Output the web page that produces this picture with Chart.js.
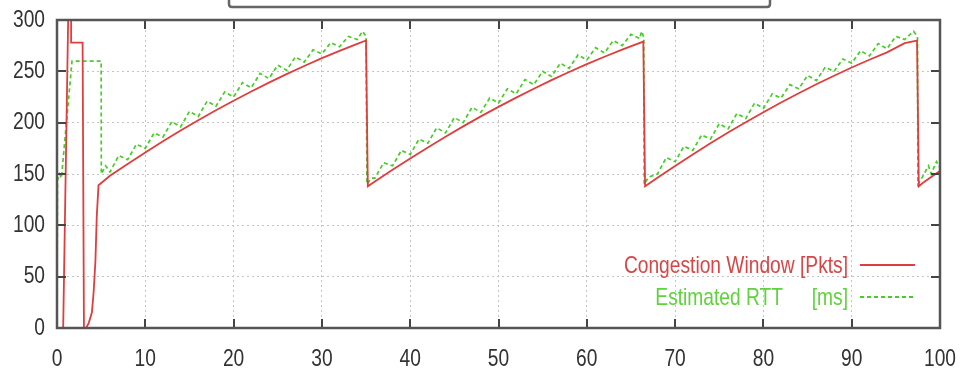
<!DOCTYPE html>
<html>
<head>
<meta charset="utf-8">
<script src="https://cdn.jsdelivr.net/npm/chart.js@4.4.1/dist/chart.umd.min.js"></script>
<style>
html,body{margin:0;padding:0;background:#fff;}
#wrap{width:961px;height:380px;position:relative;}
</style>
</head>
<body>
<div id="wrap"><canvas id="c" width="961" height="380"></canvas></div>
<script>
// Time axis ticks
const xTicks = [0,10,20,30,40,50,60,70,80,90,100];
const yTicks = [0,50,100,150,200,250,300];

// Congestion Window [Pkts]
const cwndX = [0,0.7,1.3,1.6,1.6,2.9,3.05,3.3,3.6,3.95,4.15,4.35,4.5,4.7,
  6,8,10,12,14,16,18,20,22,24,26,28,30,32,34,35.0,
  35.2,36,38,40,42,44,46,48,50,52,54,56,58,60,62,64,66.4,
  66.6,68,70,72,74,76,78,80,82,84,86,88,90,92,94,96,97.4,
  97.6,98,99,100];
const cwndY = [0,0,320,320,278,278,0,0,5,15,35,65,108,139,
  148.3,159.8,171.0,181.8,192.3,202.3,212.1,221.4,230.4,239.0,247.3,255.2,262.8,269.9,276.7,280,
  138,142.7,154.1,165.2,175.9,186.3,196.4,206.1,215.4,224.4,233.1,241.4,249.4,257.0,264.2,271.2,279,
  138,146.3,157.9,169.1,179.9,190.4,200.5,210.2,219.7,228.7,237.4,245.7,253.7,261.3,268.5,277.4,280,
  138,141,147,153];

// Estimated RTT [ms]
const rttX = [0,0.05,0.3,0.5,1.7,5.0,5.02,5.5,
  6,7,8,9,10,11,12,13,14,15,16,17,18,19,20,21,22,23,24,25,26,27,28,29,30,31,32,33,34,34.6,35.0,
  35.1,35.6,36,37,38,39,40,41,42,43,44,45,46,47,48,49,50,51,52,53,54,55,56,57,58,59,60,61,62,63,64,65,66,66.2,66.45,
  66.5,67,68,69,70,71,72,73,74,75,76,77,78,79,80,81,82,83,84,85,86,87,88,89,90,91,92,93,94,95,96,97,97.45,
  97.5,98,98.7,99,99.6,100];
const rttY = [0,144,150,146,260,260,150,158,
  152,168,164,179,175,190,186,201,196,211,206,221,216,230,225,239,234,248,243,256,251,264,259,271,267,278,274,284,281,289,284,
  140,146,146,161,158,173,169,184,180,195,190,205,200,215,210,224,219,233,228,242,237,250,245,258,253,266,261,273,268,280,275,286,282,289,283,
  140,147,150,166,162,177,173,188,184,199,194,209,204,219,214,228,224,237,233,246,241,254,250,262,258,270,265,277,272,284,281,289,284,
  140,147,158,150,162,156];

const legendLabels = ['Congestion Window [Pkts]', 'Estimated RTT', '[ms]'];

const RED = 'rgb(222,62,62)';
const GREEN = 'rgb(70,205,40)';
const FONT = "'Liberation Sans',Arial,sans-serif";
const SQUEEZE = 0.8;

function pts(xs, ys){ return xs.map((x,i)=>({x:x,y:ys[i]})); }

function narrowText(ctx, text, x, y, align){
  ctx.save();
  ctx.translate(x, y);
  ctx.scale(SQUEEZE, 1);
  ctx.textAlign = align;
  ctx.fillText(text, 0, 0);
  ctx.restore();
}

const framePlugin = {
  id: 'frame',
  afterDatasetsDraw(chart){
    const {ctx, chartArea:a, scales} = chart;
    ctx.save();
    // inside tick marks
    ctx.strokeStyle = '#444';
    ctx.lineWidth = 2;
    ctx.beginPath();
    xTicks.forEach(v=>{
      const px = Math.round(scales.x.getPixelForValue(v));
      ctx.moveTo(px, a.bottom); ctx.lineTo(px, a.bottom-9);
      ctx.moveTo(px, a.top); ctx.lineTo(px, a.top+9);
    });
    yTicks.forEach(v=>{
      const py = Math.round(scales.y.getPixelForValue(v));
      ctx.moveTo(a.left, py); ctx.lineTo(a.left+9, py);
      ctx.moveTo(a.right, py); ctx.lineTo(a.right-9, py);
    });
    ctx.stroke();
    // frame
    ctx.strokeStyle = '#555';
    ctx.lineWidth = 2.5;
    ctx.strokeRect(a.left, a.top, a.right-a.left, a.bottom-a.top);
    // cut-off title box above plot
    ctx.strokeStyle = '#666';
    ctx.lineWidth = 2.5;
    ctx.beginPath();
    ctx.moveTo(229, -5); ctx.lineTo(229, 4);
    ctx.quadraticCurveTo(229, 7, 232, 7);
    ctx.lineTo(767, 7);
    ctx.quadraticCurveTo(770, 7, 770, 4);
    ctx.lineTo(770, -5);
    ctx.stroke();
    // tick labels (positions from the library scales)
    ctx.font = "24px " + FONT;
    ctx.textBaseline = 'middle';
    ctx.fillStyle = '#333';
    scales.x.ticks.forEach(t=>{
      narrowText(ctx, String(t.value), scales.x.getPixelForValue(t.value), 359, 'center');
    });
    scales.y.ticks.forEach(t=>{
      narrowText(ctx, String(t.value), 45, scales.y.getPixelForValue(t.value), 'right');
    });
    // legend
    ctx.fillStyle = 'rgb(215,70,70)';
    narrowText(ctx, legendLabels[0], 848, 266, 'right');
    ctx.fillStyle = 'rgb(95,210,60)';
    narrowText(ctx, legendLabels[2], 848, 298, 'right');
    narrowText(ctx, legendLabels[1], 783, 298, 'right');
    ctx.lineWidth = 2;
    ctx.strokeStyle = RED;
    ctx.beginPath(); ctx.moveTo(860, 265); ctx.lineTo(915, 265); ctx.stroke();
    ctx.strokeStyle = GREEN;
    ctx.setLineDash([4,3]);
    ctx.beginPath(); ctx.moveTo(860, 297); ctx.lineTo(915, 297); ctx.stroke();
    ctx.restore();
  }
};

new Chart(document.getElementById('c'), {
  type: 'scatter',
  data: {
    datasets: [
      { label: legendLabels[1], data: pts(rttX, rttY), showLine: true, borderColor: GREEN,
        borderWidth: 1.7, borderDash: [4,3], pointRadius: 0, tension: 0, order: 2 },
      { label: legendLabels[0], data: pts(cwndX, cwndY), showLine: true, borderColor: RED,
        borderWidth: 1.8, pointRadius: 0, tension: 0, order: 1 }
    ]
  },
  options: {
    responsive: false,
    animation: false,
    layout: { padding: { top: 20, right: 21, left: 0, bottom: 0 } },
    plugins: { legend: { display: false }, tooltip: { enabled: false } },
    scales: {
      x: {
        type: 'linear', min: 0, max: 100,
        afterFit(s){ s.height = 52; },
        afterBuildTicks(s){ s.ticks = xTicks.map(v=>({value:v})); },
        grid: { color: '#c4c4c4', lineWidth: 1, drawTicks: false },
        border: { display: false, dash: [2,3] },
        ticks: { display: false }
      },
      y: {
        min: 0, max: 300,
        afterFit(s){ s.width = 57; },
        afterBuildTicks(s){ s.ticks = yTicks.map(v=>({value:v})); },
        grid: { color: '#c4c4c4', lineWidth: 1, drawTicks: false },
        border: { display: false, dash: [2,3] },
        ticks: { display: false }
      }
    }
  },
  plugins: [framePlugin]
});
</script>
</body>
</html>
